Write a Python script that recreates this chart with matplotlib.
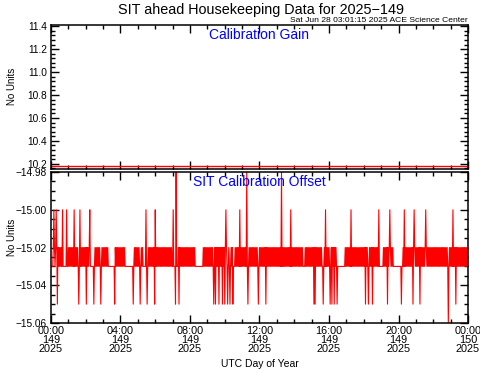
import numpy as np
import matplotlib
matplotlib.use('Agg')
import matplotlib.pyplot as plt
from matplotlib.ticker import MultipleLocator, FixedLocator

plt.rcParams['font.family'] = ['Liberation Sans', 'DejaVu Sans']

## Data (hours of day 149) ##

gain_value = 10.185          # constant calibration gain
offset_base = -15.03         # baseline of the calibration offset

# stretches where the offset flickers between -15.03 and -15.02
flicker_blocks = [(0.12, 0.63), (0.98, 2.24), (2.53, 3.28), (3.68, 4.26),
                  (4.72, 5.29), (5.58, 6.96), (7.31, 8.29), (8.75, 10.47),
                  (10.59, 14.50), (14.62, 15.60), (15.65, 16.46),
                  (16.92, 18.93), (19.11, 19.68), (20.26, 23.94)]

# single samples at -15.00
up_1500 = [0.17, 0.29, 0.67, 0.90, 1.32, 1.67, 2.24, 5.47, 6.00, 7.04,
           10.05, 10.88, 13.80, 15.81, 17.27, 18.88, 19.38, 19.51, 20.32,
           20.91, 21.57, 23.15]
# single samples at -14.98
up_1498 = [7.19, 11.26, 13.28]
# single samples at -15.05
down_1505 = [0.36, 1.61, 2.03, 2.46, 2.86, 3.67, 4.72, 5.12, 5.53, 5.97,
             7.18, 7.38, 9.36, 9.48, 9.67, 9.86, 10.01, 10.17, 10.30, 10.46,
             11.32, 11.95, 12.36, 15.15, 15.21, 15.65, 16.06, 16.17, 16.29,
             16.48, 18.09, 18.26, 18.51, 19.36, 20.18, 20.82, 21.22, 23.31]
# single samples at -15.06
down_1506 = [22.87]

tick_hours = [0, 4, 8, 12, 16, 20, 24]
tick_labels = ['00:00\n149\n2025', '04:00\n149\n2025', '08:00\n149\n2025',
               '12:00\n149\n2025', '16:00\n149\n2025', '20:00\n149\n2025',
               '00:00\n150\n2025']

## Build the sampled series (2 minute cadence) ##

per_hour = 30
t = np.arange(0, 24 * per_hour) / float(per_hour)
gain = np.full(t.size, gain_value)
offset = np.full(t.size, offset_base)

for a, b in flicker_blocks:
    idx = np.where((t >= a) & (t <= b))[0]
    offset[idx[::2]] = -15.02

for hours, val in [(up_1500, -15.00), (up_1498, -14.98),
                   (down_1505, -15.05), (down_1506, -15.06)]:
    for h in hours:
        offset[int(round(h * per_hour))] = val

## Figure ##

fig = plt.figure(figsize=(4.81, 3.70), dpi=100)
ax1 = fig.add_axes([0.106, 0.5432, 0.867, 0.3892])
ax2 = fig.add_axes([0.106, 0.127, 0.867, 0.408])

ax1.plot(t, gain, color='red', lw=1.0)
ax2.plot(t, offset, color='red', lw=0.8)

ax1.set_ylim(10.155, 11.41)
ax2.set_ylim(-15.06, -14.98)

ax1.yaxis.set_major_locator(FixedLocator([10.2, 10.4, 10.6, 10.8, 11.0, 11.2, 11.4]))
ax1.yaxis.set_minor_locator(MultipleLocator(0.04))
ax1.yaxis.set_major_formatter(plt.FuncFormatter(lambda v, p: '%.1f' % v))
ax2.yaxis.set_major_locator(FixedLocator([-15.06, -15.04, -15.02, -15.00, -14.98]))
ax2.yaxis.set_minor_locator(MultipleLocator(0.005))
ax2.yaxis.set_major_formatter(plt.FuncFormatter(lambda v, p: ('%.2f' % v).replace('-', '\u2212')))

for ax in (ax1, ax2):
    ax.set_xlim(0, 24)
    ax.xaxis.set_major_locator(FixedLocator(tick_hours))
    ax.xaxis.set_minor_locator(MultipleLocator(1))
    ax.tick_params(which='both', direction='in', top=True, right=True,
                   width=1.0, labelsize=7.3, colors='black', pad=3)
    ax.tick_params(which='major', length=6)
    ax.tick_params(which='minor', length=3)
    for s in ax.spines.values():
        s.set_linewidth(1.1)

ax1.set_xticklabels([])
ax2.set_xticks(tick_hours)
ax2.set_xticklabels(tick_labels, fontsize=7.8, linespacing=0.88)
ax2.tick_params(axis='x', pad=2)

fig.text(0.54, 1 - 364 / 370, 'UTC Day of Year', ha='center', va='center',
         fontsize=7.5)
fig.text(12 / 481, 1 - 86 / 370, 'No Units', rotation=90,
         ha='center', va='center', fontsize=7)
fig.text(12 / 481, 1 - 237 / 370, 'No Units', rotation=90,
         ha='center', va='center', fontsize=7)

ax1.text(0.5, 0.93, 'Calibration Gain', transform=ax1.transAxes,
         ha='center', va='center', color='blue', fontsize=10)
ax2.text(0.5, 0.935, 'SIT Calibration Offset', transform=ax2.transAxes,
         ha='center', va='center', color='blue', fontsize=10)

fig.text(0.542, 0.972, 'SIT ahead Housekeeping Data for 2025\u2212149',
         ha='center', va='center', fontsize=10.4)
fig.text(0.973, 0.945, 'Sat Jun 28 03:01:15 2025 ACE Science Center',
         ha='right', va='center', fontsize=6.1)

fig.savefig('out.png', dpi=100)
